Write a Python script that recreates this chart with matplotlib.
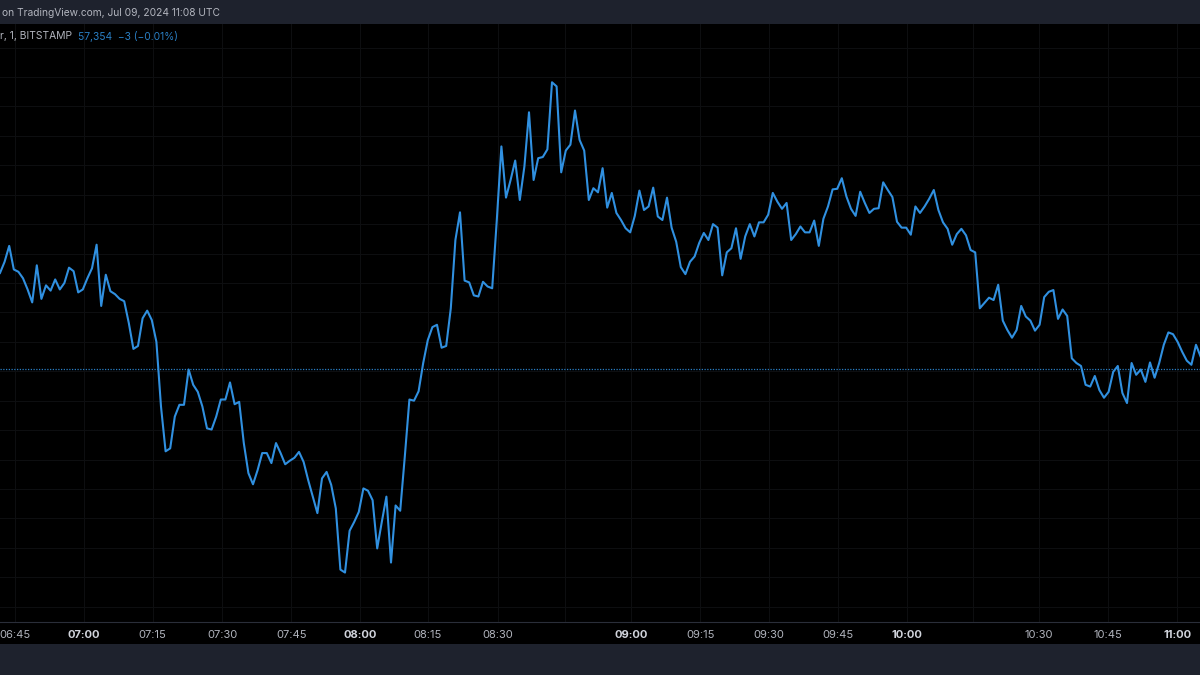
import matplotlib
matplotlib.use("Agg")
import matplotlib.pyplot as plt
import numpy as np

# 1 minute closes
prices = [
    57517, 57536, 57563, 57523, 57519, 57508, 57489, 57467, 57530, 57473, 57496, 57487, 57506, 57489, 57500,
    57526, 57520, 57484, 57489, 57508, 57525, 57565, 57461, 57514, 57486, 57481, 57473, 57469, 57432, 57388,
    57393, 57440, 57453, 57437, 57400, 57290, 57214, 57219, 57273, 57293, 57293, 57353, 57327, 57315, 57290,
    57253, 57251, 57273, 57302, 57302, 57331, 57294, 57298, 57228, 57177,
    57158, 57182, 57211, 57211, 57194, 57228, 57211, 57192, 57198, 57203, 57213,
    57196, 57165, 57137, 57109, 57168, 57179, 57157, 57117, 57013, 57008, 57079, 57094, 57111, 57151, 57147,
    57131, 57049, 57094, 57137, 57025, 57122, 57113, 57205, 57302, 57300, 57316, 57364, 57403,
    57425, 57429, 57390, 57393,
    57457, 57573, 57620, 57504, 57501, 57479, 57477, 57502, 57494, 57491, 57607, 57732, 57645, 57675, 57708,
    57641, 57698, 57790, 57675, 57712, 57714, 57727, 57841, 57834, 57688, 57725, 57735, 57793, 57743, 57725,
    57641, 57661, 57654, 57695, 57628, 57653, 57619, 57607, 57593, 57586, 57614, 57657, 57624, 57630, 57662,
    57613, 57607, 57645, 57594, 57570, 57527, 57515, 57536, 57545, 57568,
    57585, 57573, 57600, 57594, 57513, 57552, 57559, 57593, 57541, 57579, 57600, 57579, 57603, 57603, 57616,
    57653, 57638, 57626, 57636, 57573, 57583, 57596, 57586, 57586, 57606, 57563, 57609, 57630, 57659, 57660,
    57678, 57647, 57626, 57614, 57655, 57636, 57619, 57626, 57627, 57671, 57658, 57646, 57604, 57594, 57594,
    57582, 57630, 57619, 57630, 57643, 57658, 57624, 57603, 57592, 57565, 57583, 57592,
    57581, 57556, 57552, 57457, 57466, 57475, 57471, 57497, 57436, 57420, 57407, 57420, 57461, 57443, 57436,
    57419, 57429, 57476, 57485, 57488, 57439, 57455, 57444, 57372, 57364, 57359, 57327, 57324, 57342, 57318,
    57305, 57315, 57349, 57359, 57313, 57296, 57364, 57344, 57353, 57332, 57365, 57339, 57364, 57395, 57416,
    57413, 57400, 57383, 57368, 57361, 57395, 57375,
]
last_price = 57354

# bar index of each time label
tick_bars = [3.2, 18.3, 33.2, 48.3, 63.3, 78.3, 93, 108.3, 122.8, 137.2, 152.2, 167.2, 182.2, 197.2, 211.6, 225.8, 240.9, 255.9]
tick_labels = ["06:45", "07:00", "07:15", "07:30", "07:45", "08:00", "08:15", "08:30", "",
               "09:00", "09:15", "09:30", "09:45", "10:00", "", "10:30", "10:45", "11:00"]
bold_labels = ["07:00", "08:00", "09:00", "10:00", "11:00"]

band_color = "#1e222d"
grid_color = "#0d0e10"
line_color = "#3090e0"
text_color = "#b2b5be"

plt.rcParams["font.family"] = ["Inter", "DejaVu Sans"]

fig = plt.figure(figsize=(12, 6.75), dpi=100, facecolor=band_color)

# black strip holding the time labels
strip = fig.add_axes([0, 31 / 675, 1, 22 / 675], facecolor="black")
strip.set_axis_off()
strip.add_patch(plt.Rectangle((0, 0), 1, 1, transform=strip.transAxes, color="black"))

ax = fig.add_axes([0, 53 / 675, 1, 598 / 675], facecolor="black")
ax.plot(np.arange(len(prices)), prices, color=line_color, linewidth=1.5, solid_joinstyle="round", zorder=3)
ax.axhline(last_price, color="#2a7fc4", linewidth=0.9, linestyle=(0, (1, 1.2)), zorder=2)

ax.set_xlim(0, 1200 / 4.6)
ax.set_ylim(56924, 57940)
ax.set_yticks(np.arange(56950, 57950, 50))
ax.set_xticks(tick_bars)
ax.set_xticklabels(tick_labels)
ax.grid(True, color=grid_color, linewidth=0.8)
ax.set_axisbelow(True)
ax.tick_params(axis="both", length=0, labelleft=False)
ax.tick_params(axis="x", labelsize=8, labelcolor=text_color, pad=6)
for label in ax.get_xticklabels():
    if label.get_text() in bold_labels:
        label.set_fontweight("bold")
        label.set_color("#d1d4dc")

for side in ["top", "left", "right"]:
    ax.spines[side].set_visible(False)
ax.spines["bottom"].set_color("#2a2e39")
ax.spines["bottom"].set_linewidth(0.8)

fig.text(2 / 1200, 1 - 13 / 675, "on TradingView.com, Jul 09, 2024 11:08 UTC",
         color=text_color, fontsize=7.35, va="center")
fig.text(72 / 1200, 1 - 36 / 675, "r, 1, BITSTAMP", color=text_color, fontsize=7.4, va="center", ha="right")
fig.text(78 / 1200, 1 - 36 / 675, "57,354  \u22123 (\u22120.01%)", color="#2a7fc4", fontsize=7.4, va="center")

fig.savefig("out.png", dpi=100, facecolor=fig.get_facecolor())
